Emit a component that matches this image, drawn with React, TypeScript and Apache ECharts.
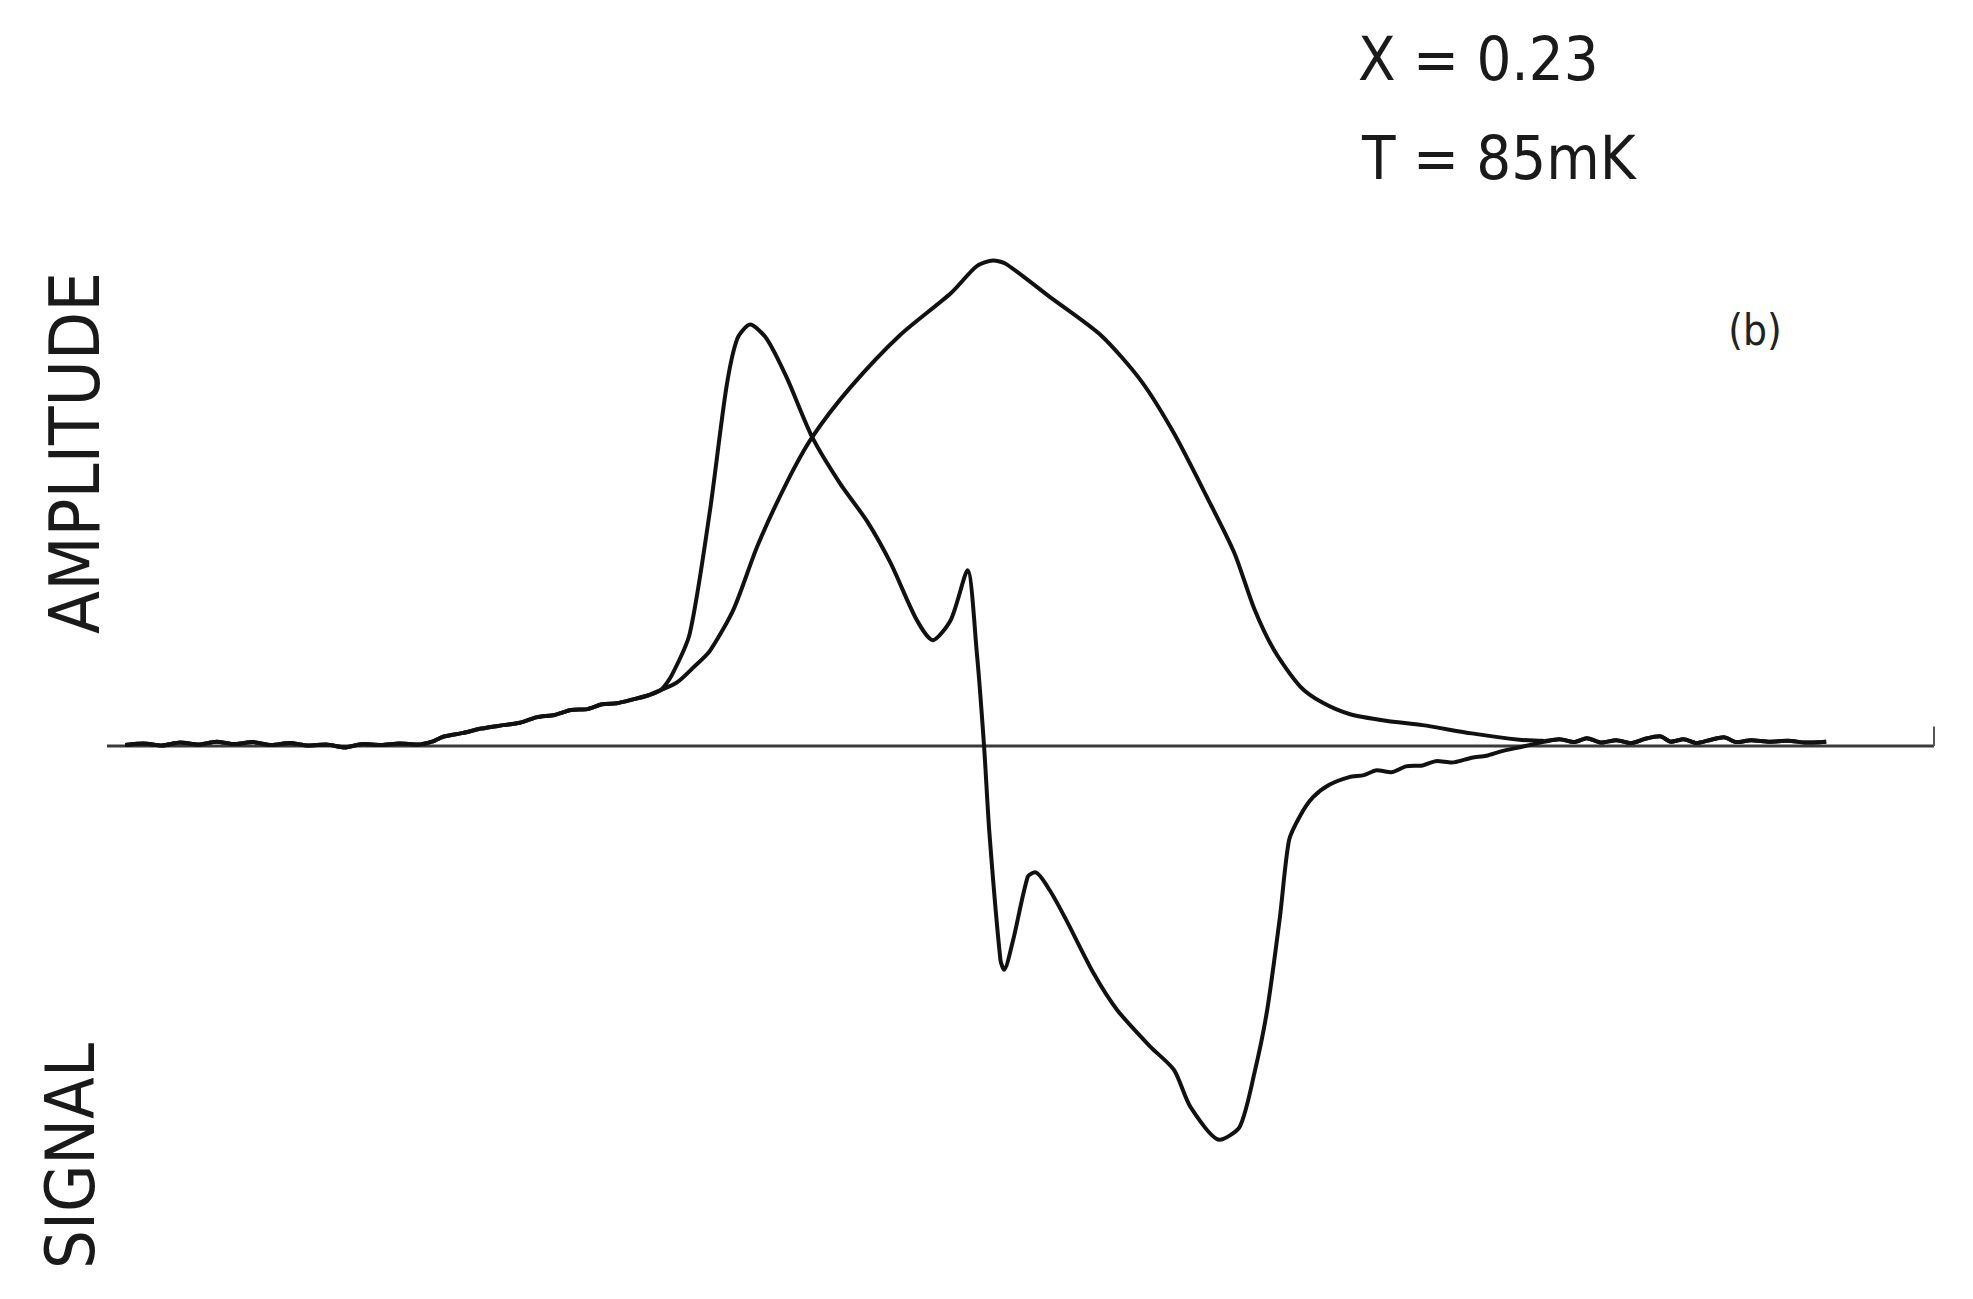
import React, { useEffect, useRef } from "react";
import * as echarts from "echarts";

// Field axis (arbitrary units, 0..100) and signal axis (arbitrary units, absorption peak = 100)
const xRange = [0, 100];
const yRange = [-100, 120];

// Noisy common trace on the low-field side (both signals overlap here)
const sharedLeft: [number, number][] = [
  [1.0, 0.2], [2.0, 0.5], [3.0, 0.1], [4.0, 0.7], [5.0, 0.3], [6.0, 0.9], [7.0, 0.4],
  [8.0, 0.8], [9.0, 0.2], [10.0, 0.6], [11.0, 0.1], [12.0, 0.3], [13.0, -0.3], [14.0, 0.4],
  [15.0, 0.2], [16.0, 0.5], [17.0, 0.3], [17.8, 0.9], [18.4, 1.9], [19.5, 2.7], [20.5, 3.6],
  [21.7, 4.3], [22.6, 4.8], [23.5, 5.9], [24.5, 6.4], [25.4, 7.4], [26.3, 7.6], [27.1, 8.6],
  [27.9, 8.8], [28.8, 9.6], [29.6, 10.4], [30.3, 11.5],
];

// Absorption (broad hump)
const absorption: [number, number][] = [
  [31.2, 13.1], [32.1, 16.2], [33.0, 19.6], [34.3, 28.2], [35.6, 41.2], [37.2, 54.2],
  [38.6, 63.6], [40.7, 73.9], [43.4, 84.6], [46.2, 93.3], [47.6, 98.8], [48.5, 100],
  [49.2, 99.3], [51.6, 92.5], [54.4, 84.6], [56.6, 75.2], [58.4, 64.4], [60.2, 51.3],
  [61.7, 39.8], [62.8, 28.2], [63.9, 19.6], [65.3, 12.3], [66.5, 9.0], [68.0, 6.6],
  [70.0, 5.2], [72.0, 4.3], [74.7, 2.6], [77.3, 1.3], [78.7, 1.0],
];

// Dispersion (derivative-like signal)
const dispersion: [number, number][] = [
  [30.9, 14.5], [31.9, 23.2], [33.0, 48.4], [33.9, 73.8], [34.5, 83.9], [35.2, 86.8],
  [36.1, 83.9], [37.2, 75.9], [38.6, 63.6], [40.1, 54.2], [41.6, 46.3], [42.9, 37.6],
  [44.3, 26.1], [45.2, 21.8], [46.2, 26.1], [47.1, 36.2], [47.6, 19.6], [48.0, 0.3],
  [48.3, -18.0], [48.9, -44.0], [49.1, -46.1], [49.6, -39.9], [50.4, -26.9], [50.8, -26.0],
  [51.6, -29.7], [52.5, -35.8], [54.0, -46.8], [55.3, -54.4], [57.1, -61.9], [58.4, -66.7],
  [59.3, -74.3], [60.9, -81.1], [62.0, -78.4], [62.8, -67.4], [63.5, -54.4], [64.2, -35.2],
  [64.7, -19.4], [65.3, -14.4], [66.0, -10.6], [66.9, -8.0], [68.0, -6.4], [68.8, -6.0],
  [69.5, -5.0], [70.3, -5.4], [71.1, -4.2], [72.0, -4.0], [72.8, -3.1], [73.6, -3.4],
  [74.7, -2.4], [75.5, -2.0], [76.3, -1.1], [77.4, -0.2],
];

// Noisy common trace on the high-field side
const sharedRight: [number, number][] = [
  [78.7, 0.9], [79.5, 1.4], [80.3, 0.8], [81.0, 1.6], [81.8, 0.7], [82.6, 1.2], [83.4, 0.6],
  [84.2, 1.5], [85.0, 2.0], [85.6, 0.9], [86.3, 1.4], [87.0, 0.6], [87.8, 1.3], [88.5, 1.8],
  [89.2, 0.8], [90.0, 1.2], [91.0, 0.9], [92.0, 1.1], [93.0, 0.7], [94.1, 0.9],
];

const baseline: [number, number][] = [[0, 0], [100, 0]];
const endTick: [number, number][] = [[100, 0], [100, 4]];

const labelFont = "'Liberation Sans Narrow', 'DejaVu Sans Condensed', Roboto, sans-serif";

export default function App() {
  const ref = useRef<HTMLDivElement>(null);
  useEffect(() => {
    const chart = echarts.init(ref.current!, null, { renderer: "svg" });
    const curveStyle = { color: "#111", width: 4 };
    chart.setOption({
      animation: false,
      backgroundColor: "#ffffff",
      grid: { left: 107, width: 1827, top: 163.3, height: 1068.3 },
      xAxis: { type: "value", min: xRange[0], max: xRange[1], show: false },
      yAxis: { type: "value", min: yRange[0], max: yRange[1], show: false },
      series: [
        {
          type: "line", data: baseline, symbol: "none", silent: true, z: 1,
          lineStyle: { color: "#3a3a3a", width: 3 },
        },
        {
          type: "line", data: endTick, symbol: "none", silent: true, z: 1,
          lineStyle: { color: "#555", width: 2 },
        },
        {
          type: "line", data: [...sharedLeft, ...absorption, ...sharedRight], symbol: "none",
          smooth: 0.25, z: 2, lineStyle: curveStyle,
        },
        {
          type: "line", data: [...sharedLeft, ...dispersion, ...sharedRight], symbol: "none",
          smooth: 0.25, z: 2, lineStyle: curveStyle,
        },
      ],
      graphic: [
        {
          type: "text", x: 1358, y: 58,
          style: { text: "X = 0.23", fontSize: 61, fontFamily: labelFont, fill: "#1a1a1a", textAlign: "left", textVerticalAlign: "middle" },
        },
        {
          type: "text", x: 1362, y: 157,
          style: { text: "T = 85mK", fontSize: 61, fontFamily: labelFont, fill: "#1a1a1a", textAlign: "left", textVerticalAlign: "middle" },
        },
        {
          type: "text", x: 75, y: 453, rotation: Math.PI / 2,
          style: { text: "AMPLITUDE", fontSize: 70, fontFamily: labelFont, fill: "#1a1a1a", textAlign: "center", textVerticalAlign: "middle" },
        },
        {
          type: "text", x: 70, y: 1156, rotation: Math.PI / 2,
          style: { text: "SIGNAL", fontSize: 68, fontFamily: labelFont, fill: "#1a1a1a", textAlign: "center", textVerticalAlign: "middle" },
        },
        {
          type: "text", x: 1755, y: 330,
          style: { text: "(b)", fontSize: 42, fontFamily: labelFont, fill: "#222", textAlign: "center", textVerticalAlign: "middle" },
        },
      ],
    });
    return () => chart.dispose();
  }, []);
  return (
    <div
      ref={ref}
      style={{ position: "fixed", left: 0, top: 0, width: 1973, height: 1299, background: "#fff" }}
    />
  );
}
